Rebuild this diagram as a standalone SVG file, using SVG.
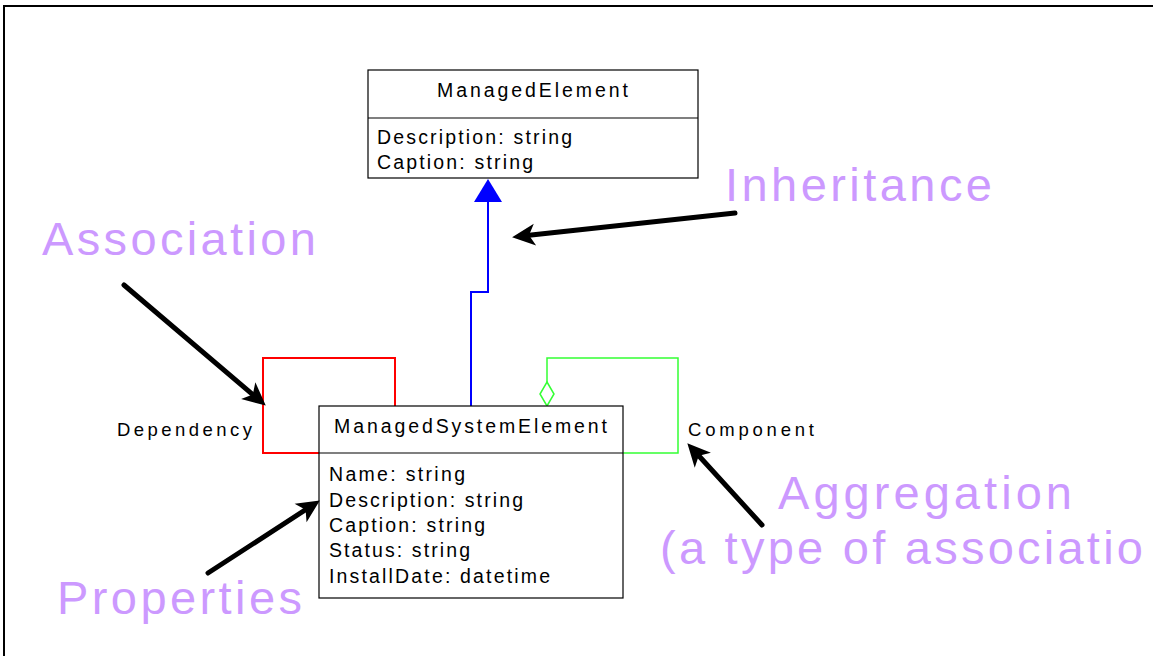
<svg xmlns="http://www.w3.org/2000/svg" width="1153" height="656" viewBox="0 0 1153 656">
<style>
.box{fill:#fff;stroke:#000;stroke-width:1.2}
.t{font-family:"Liberation Sans",Arial,sans-serif;font-size:19.5px;fill:#000}
.lbl{font-family:"Liberation Sans",Arial,sans-serif;font-size:18.5px;fill:#000}
.big{font-family:"Liberation Sans",Arial,sans-serif;font-size:47px;fill:#cc99ff}
.ann{stroke:#000;stroke-width:5;stroke-linecap:round;fill:none}
</style>
<defs>
<marker id="ah" markerUnits="userSpaceOnUse" orient="auto" refX="0" refY="0" markerWidth="40" markerHeight="40" overflow="visible">
<path d="M17,0 L-6,-11 L0,0 L-6,11 Z" fill="#000"/>
</marker>
</defs>
<rect x="0" y="0" width="1153" height="656" fill="#fff"/>
<path d="M3,6 H1153 M4,6 V656" stroke="#000" stroke-width="2" fill="none"/>

<g id="connectors">
<path d="M471,406 V292 H488 V201" stroke="#0000ff" stroke-width="2" fill="none"/>
<polygon points="488,179 474,202 502,202" fill="#0000ff"/>
<path d="M395,406 V358 H263 V453 H319" stroke="#ff0000" stroke-width="2" fill="none"/>
<path d="M547,382 V358 H678 V453 H623" stroke="#33ff33" stroke-width="1.5" fill="none"/>
<polygon points="547,382 554,394 547,406 540,394" fill="#fff" stroke="#33ff33" stroke-width="1.5"/>
</g>

<g id="ManagedElement">
<rect class="box" x="368" y="70" width="330" height="108"/>
<line x1="368" y1="118" x2="698" y2="118" stroke="#000" stroke-width="1.2"/>
<text class="t" x="437" y="97" textLength="191" lengthAdjust="spacing">ManagedElement</text>
<text class="t" x="377" y="144" textLength="195" lengthAdjust="spacing">Description: string</text>
<text class="t" x="377" y="169" textLength="156" lengthAdjust="spacing">Caption: string</text>
</g>

<g id="ManagedSystemElement">
<rect class="box" x="319" y="406" width="304" height="192"/>
<line x1="319" y1="453" x2="623" y2="453" stroke="#000" stroke-width="1.2"/>
<text class="t" x="334" y="433" textLength="273" lengthAdjust="spacing">ManagedSystemElement</text>
<text class="t" x="329" y="481" textLength="136" lengthAdjust="spacing">Name: string</text>
<text class="t" x="329" y="507" textLength="194" lengthAdjust="spacing">Description: string</text>
<text class="t" x="329" y="532" textLength="156" lengthAdjust="spacing">Caption: string</text>
<text class="t" x="329" y="557" textLength="141" lengthAdjust="spacing">Status: string</text>
<text class="t" x="329" y="583" textLength="221" lengthAdjust="spacing">InstallDate: datetime</text>
</g>

<g id="labels">
<text class="lbl" x="117" y="436" textLength="135" lengthAdjust="spacing">Dependency</text>
<text class="lbl" x="688" y="436" textLength="126" lengthAdjust="spacing">Component</text>
</g>

<g id="annotations">
<text class="big" x="42" y="255" textLength="274" lengthAdjust="spacing">Association</text>
<text class="big" x="725" y="201" textLength="267" lengthAdjust="spacing">Inheritance</text>
<text class="big" x="57" y="614" textLength="245" lengthAdjust="spacing">Properties</text>
<text class="big" x="778" y="509" textLength="294" lengthAdjust="spacing">Aggregation</text>
<text class="big" x="660" y="564" textLength="483" lengthAdjust="spacing">(a type of associatio</text>
<line class="ann" x1="735" y1="213" x2="529" y2="235.3" marker-end="url(#ah)"/>
<line class="ann" x1="124" y1="285" x2="252.8" y2="394.6" marker-end="url(#ah)"/>
<line class="ann" x1="208" y1="573" x2="305.6" y2="509.7" marker-end="url(#ah)"/>
<line class="ann" x1="762" y1="525" x2="698.8" y2="455.8" marker-end="url(#ah)"/>
</g>
</svg>
